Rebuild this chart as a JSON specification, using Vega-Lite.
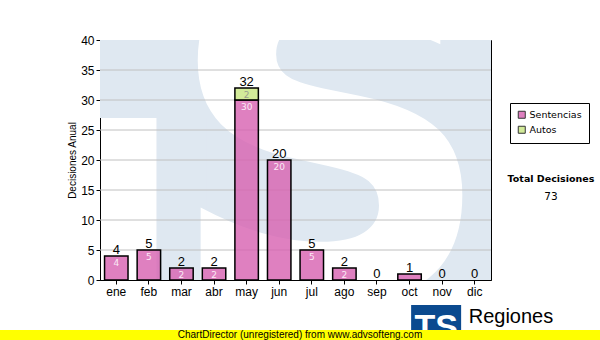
{
  "$schema": "https://vega.github.io/schema/vega-lite/v6.json",
  "padding": {"left": -10, "top": 33, "right": 0, "bottom": 0},
  "background": "#ffffff",
  "config": {
    "view": {"stroke": "#000000", "strokeWidth": 1},
    "font": "Liberation Sans",
    "axis": {"zindex": 1, "labelFont": "Liberation Sans", "labelFontSize": 12, "labelColor": "#000000", "domainColor": "#000000", "tickColor": "#000000", "tickSize": 4, "labelPadding": 2, "grid": false, "titleFont": "Liberation Sans", "titleFontSize": 10, "titleFontWeight": "normal", "titleColor": "#000000"},
    "axisY": {"titlePadding": 3},
    "axisX": {"labelAngle": 0}
  },
  "datasets": {
    "d": [
      {"month": "ene", "series": "Sentencias", "value": 4},
      {"month": "feb", "series": "Sentencias", "value": 5},
      {"month": "mar", "series": "Sentencias", "value": 2},
      {"month": "abr", "series": "Sentencias", "value": 2},
      {"month": "may", "series": "Sentencias", "value": 30},
      {"month": "jun", "series": "Sentencias", "value": 20},
      {"month": "jul", "series": "Sentencias", "value": 5},
      {"month": "ago", "series": "Sentencias", "value": 2},
      {"month": "sep", "series": "Sentencias", "value": 0},
      {"month": "oct", "series": "Sentencias", "value": 1},
      {"month": "nov", "series": "Sentencias", "value": 0},
      {"month": "dic", "series": "Sentencias", "value": 0},
      {"month": "ene", "series": "Autos", "value": 0},
      {"month": "feb", "series": "Autos", "value": 0},
      {"month": "mar", "series": "Autos", "value": 0},
      {"month": "abr", "series": "Autos", "value": 0},
      {"month": "may", "series": "Autos", "value": 2},
      {"month": "jun", "series": "Autos", "value": 0},
      {"month": "jul", "series": "Autos", "value": 0},
      {"month": "ago", "series": "Autos", "value": 0},
      {"month": "sep", "series": "Autos", "value": 0},
      {"month": "oct", "series": "Autos", "value": 0},
      {"month": "nov", "series": "Autos", "value": 0},
      {"month": "dic", "series": "Autos", "value": 0}
    ]
  },
  "vconcat": [
    {
      "width": 391,
      "height": 240,
      "title": {
        "text": "Total Decisiones",
        "subtitle": "73",
        "anchor": "end",
        "frame": "group",
        "align": "center",
        "dx": 60,
        "dy": 168,
        "offset": 0,
        "font": "DejaVu Sans",
        "fontSize": 9.5,
        "fontWeight": "bold",
        "color": "#000000",
        "subtitleFont": "DejaVu Sans",
        "subtitleFontSize": 10.5,
        "subtitleColor": "#000000",
        "subtitlePadding": 8
      },
      "layer": [
        {
          "data": {"values": [{"month": "sep", "lo": 0, "hi": 40}]},
          "mark": {"type": "bar", "width": 343, "clip": true, "color": "#dfe8f1"},
          "encoding": {
            "x": {"field": "month", "type": "ordinal", "title": null},
            "y": {"field": "lo", "type": "quantitative", "title": "Decisiones Anual", "scale": {"domain": [0, 40]}, "axis": {"values": [0, 5, 10, 15, 20, 25, 30, 35, 40]}},
            "y2": {"field": "hi"}
          }
        },
        {
          "data": {"values": [{"month": "feb", "lo": 27, "hi": 40}]},
          "mark": {"type": "bar", "width": 128, "clip": true, "color": "#dfe8f1"},
          "encoding": {
            "x": {"field": "month", "type": "ordinal", "title": null},
            "y": {"field": "lo", "type": "quantitative", "title": "Decisiones Anual", "scale": {"domain": [0, 40]}, "axis": {"values": [0, 5, 10, 15, 20, 25, 30, 35, 40]}},
            "y2": {"field": "hi"}
          }
        },
        {
          "data": {"values": [{"month": "mar", "lo": 0, "hi": 27}]},
          "mark": {"type": "bar", "width": 50, "clip": true, "color": "#dfe8f1"},
          "encoding": {
            "x": {"field": "month", "type": "ordinal", "title": null},
            "y": {"field": "lo", "type": "quantitative", "title": "Decisiones Anual", "scale": {"domain": [0, 40]}, "axis": {"values": [0, 5, 10, 15, 20, 25, 30, 35, 40]}},
            "y2": {"field": "hi"}
          }
        },
        {
          "data": {"values": [{"month": "ago", "v": -3, "t": "S"}]},
          "mark": {"type": "text", "clip": true, "font": "DejaVu Sans", "fontWeight": "bold", "fontSize": 460, "color": "#ffffff", "baseline": "alphabetic", "align": "center", "dx": -14},
          "encoding": {
            "x": {"field": "month", "type": "ordinal", "title": null},
            "y": {"field": "v", "type": "quantitative", "title": "Decisiones Anual", "scale": {"domain": [0, 40]}, "axis": {"values": [0, 5, 10, 15, 20, 25, 30, 35, 40]}},
            "text": {"field": "t"}
          }
        },
        {
          "data": {"values": [{"g": 5}, {"g": 10}, {"g": 15}, {"g": 20}, {"g": 25}, {"g": 30}, {"g": 35}]},
          "mark": {"type": "rule", "color": "#c0c0c0", "strokeWidth": 1},
          "encoding": {
            "y": {"field": "g", "type": "quantitative", "title": "Decisiones Anual", "scale": {"domain": [0, 40]}, "axis": {"values": [0, 5, 10, 15, 20, 25, 30, 35, 40]}}
          }
        },
        {
          "data": {"name": "d"},
          "transform": [{"filter": "datum.value > 0"}],
          "mark": {"type": "bar", "stroke": "#000000", "strokeWidth": 1.5, "fillOpacity": 0.8},
          "encoding": {
            "x": {
              "field": "month", "type": "ordinal", "sort": null, "title": null,
              "scale": {"type": "band", "domain": ["ene", "feb", "mar", "abr", "may", "jun", "jul", "ago", "sep", "oct", "nov", "dic"], "paddingInner": 0.28, "paddingOuter": 0.14}
            },
            "y": {
              "field": "value", "type": "quantitative", "stack": "zero", "title": "Decisiones Anual",
              "scale": {"domain": [0, 40], "nice": false},
              "axis": {"values": [0, 5, 10, 15, 20, 25, 30, 35, 40]}
            },
            "color": {
              "field": "series", "type": "nominal",
              "scale": {"domain": ["Sentencias", "Autos"], "range": ["#d760b0", "#c8e680"]},
              "legend": {"orient": "none", "legendX": 520, "legendY": 63, "title": null, "symbolType": "square", "symbolSize": 49, "symbolStrokeColor": "#000000", "symbolStrokeWidth": 1, "symbolOpacity": 0.8, "labelFont": "DejaVu Sans", "labelFontSize": 9.5, "labelColor": "#000000", "labelOffset": 3, "strokeColor": "#000000", "fillColor": "#ffffff", "padding": 7, "rowPadding": 3}
            },
            "order": {"field": "series", "sort": "descending"}
          }
        },
        {
          "data": {"name": "d"},
          "transform": [{"aggregate": [{"op": "sum", "field": "value", "as": "total"}], "groupby": ["month"]}],
          "mark": {"type": "text", "baseline": "alphabetic", "dy": -2, "fontSize": 13, "font": "Liberation Sans", "color": "#000000"},
          "encoding": {
            "x": {"field": "month", "type": "ordinal", "title": null},
            "y": {"field": "total", "type": "quantitative", "title": "Decisiones Anual", "scale": {"domain": [0, 40]}, "axis": {"values": [0, 5, 10, 15, 20, 25, 30, 35, 40]}},
            "text": {"field": "total"}
          }
        },
        {
          "data": {"name": "d"},
          "transform": [
            {"stack": "value", "groupby": ["month"], "sort": [{"field": "series", "order": "descending"}], "as": ["v0", "v1"]},
            {"filter": "datum.value >= 2"}
          ],
          "mark": {"type": "text", "baseline": "top", "dy": 3, "fontSize": 9, "font": "DejaVu Sans"},
          "encoding": {
            "x": {"field": "month", "type": "ordinal", "title": null},
            "y": {"field": "v1", "type": "quantitative", "title": "Decisiones Anual", "scale": {"domain": [0, 40]}, "axis": {"values": [0, 5, 10, 15, 20, 25, 30, 35, 40]}},
            "text": {"field": "value"},
            "color": {"condition": {"test": "datum.series === 'Autos'", "value": "#9a9e8e"}, "value": "#fbeaf5"}
          }
        },
        {
          "data": {"values": [{"month": "nov", "v": -8.33}]},
          "mark": {"type": "point", "shape": "square", "filled": true, "size": 2500, "color": "#0b4a8f", "opacity": 1, "xOffset": -6},
          "encoding": {
            "x": {"field": "month", "type": "ordinal", "title": null},
            "y": {"field": "v", "type": "quantitative", "title": "Decisiones Anual", "scale": {"domain": [0, 40]}, "axis": {"values": [0, 5, 10, 15, 20, 25, 30, 35, 40]}}
          }
        },
        {
          "data": {"values": [{"month": "nov", "v": -9.67, "t": "TS"}]},
          "mark": {"type": "text", "font": "Liberation Sans", "fontWeight": "bold", "fontSize": 34, "color": "#ffffff", "baseline": "alphabetic", "align": "center", "dx": -6},
          "encoding": {
            "x": {"field": "month", "type": "ordinal", "title": null},
            "y": {"field": "v", "type": "quantitative", "title": "Decisiones Anual", "scale": {"domain": [0, 40]}, "axis": {"values": [0, 5, 10, 15, 20, 25, 30, 35, 40]}},
            "text": {"field": "t"}
          }
        },
        {
          "data": {"values": [{"month": "dic", "v": -7.17, "t": "Regiones"}]},
          "mark": {"type": "text", "font": "Liberation Sans", "fontSize": 20, "color": "#000000", "baseline": "alphabetic", "align": "left", "dx": -6},
          "encoding": {
            "x": {"field": "month", "type": "ordinal", "title": null},
            "y": {"field": "v", "type": "quantitative", "title": "Decisiones Anual", "scale": {"domain": [0, 40]}, "axis": {"values": [0, 5, 10, 15, 20, 25, 30, 35, 40]}},
            "text": {"field": "t"}
          }
        }
      ]
    },
    {
      "width": 611,
      "height": 10,
      "view": {"fill": "#ffff00", "stroke": null},
      "data": {"values": [{"t": "ChartDirector (unregistered) from www.advsofteng.com"}]},
      "mark": {"type": "text", "font": "Liberation Sans", "fontSize": 10, "color": "#000000", "dx": 4.5},
      "encoding": {"text": {"field": "t"}}
    }
  ],
  "spacing": 50,
  "bounds": "flush",
  "center": true
}
